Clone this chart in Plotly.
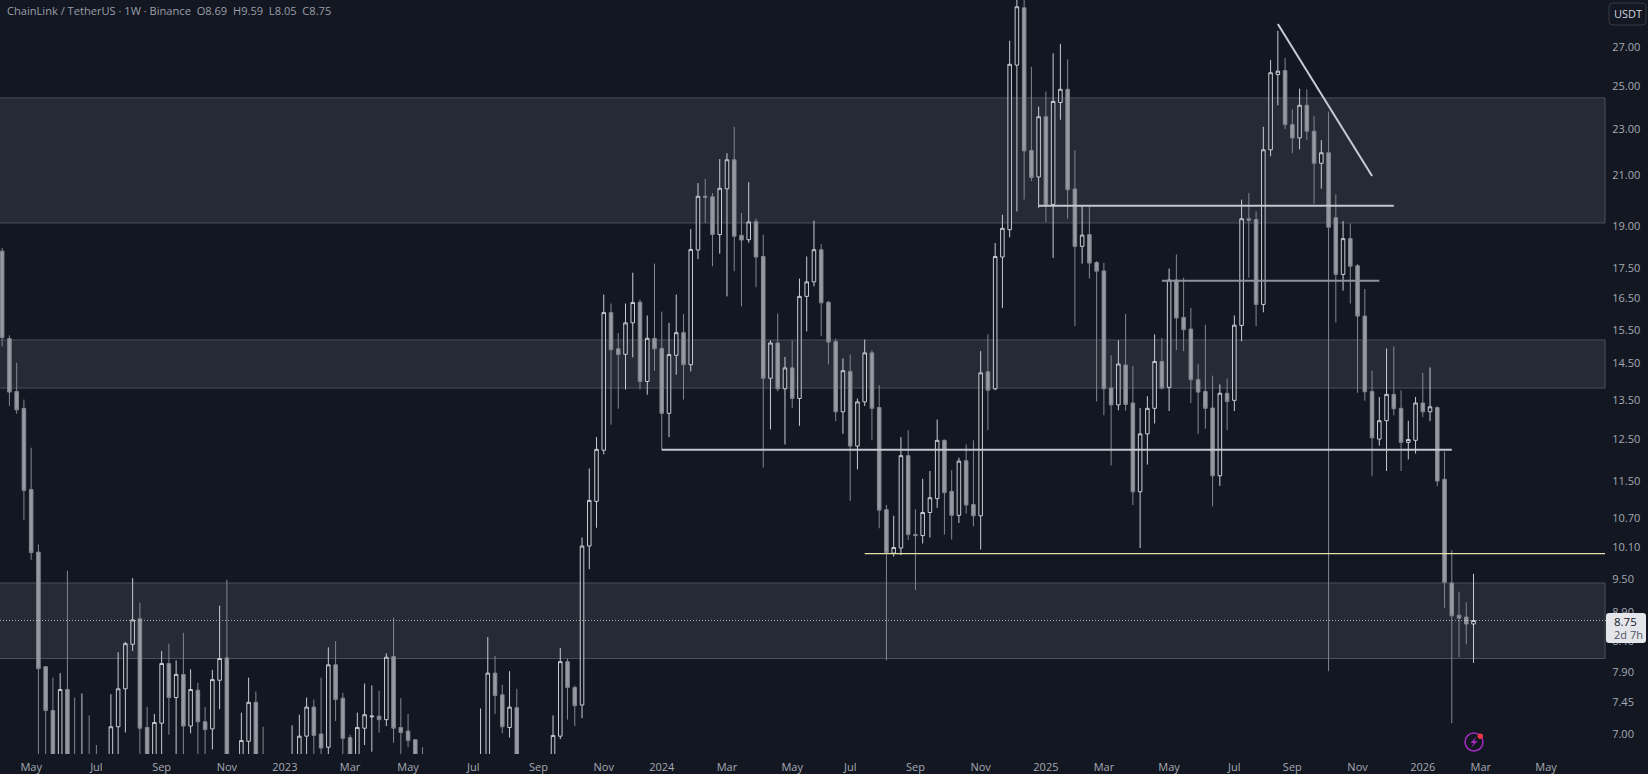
import plotly.graph_objects as go
import pandas as pd

LAST_WEEK = "2026-02-23"

opens = [
 18.09,15.23,13.73,13.28,11.32,10.01,7.99,7.33,6.5,7.64,
 6.6,6.3,6.6,6.6,6.4,6.5,7.10,7.65,8.35,8.78,
 7.09,6.6,7.15,8.04,7.52,7.87,7.11,7.63,7.17,7.07,
 7.78,8.13,6.5,6.55,6.90,7.45,6.6,6.5,6.45,6.5,
 6.4,6.55,6.97,7.38,7.0,6.82,8.02,7.51,6.95,6.6,
 7.08,7.24,7.25,7.20,8.15,7.09,7.04,6.92,6.6,
 6.5,6.45,6.4,6.35,6.4,6.5,6.45,
 6.4,6.55,7.89,7.56,7.09,7.37,
 6.6,6.5,6.45,6.5,
 6.6,6.97,8.07,7.67,7.41,10.13,11.06,
 12.23,16.03,14.93,14.77,15.71,16.36,14.0,15.24,14.94,13.15,
 14.74,15.41,14.47,18.13,20.15,20.13,18.69,20.45,21.65,18.66,
 18.50,19.17,17.90,14.09,15.10,13.80,14.38,13.54,16.55,17.03,
 18.14,16.36,15.14,13.19,14.28,12.33,13.45,14.81,13.30,10.88,
 9.99,10.09,12.10,10.36,10.34,10.82,11.12,12.47,11.28,10.76,
 11.98,10.99,10.75,14.27,13.80,17.88,18.87,26.08,29.19,22.05,
 20.93,23.56,19.83,24.23,24.87,20.44,18.26,18.69,17.69,17.40,
 13.82,13.37,14.46,13.42,11.27,12.63,13.28,14.56,13.84,17.09,
 15.88,15.52,14.05,13.73,13.29,11.63,13.68,13.49,15.63,19.28,
 19.25,16.29,
 22.08,25.6,25.8,23.2,22.6,24.1,22.9,21.5,21.95,
 19.32,17.28,18.54,17.58,15.92,13.73,12.50,12.96,13.65,13.28,
 12.42,12.47,13.42,13.19,13.30,11.55,9.42,8.84,8.81,8.69,
]
highs = [
 18.2,15.33,14.52,13.51,12.29,10.16,8.0,7.82,7.89,9.65,
 7.52,7.58,7.26,6.85,6.65,7.57,8.22,8.39,9.51,9.06,
 7.38,7.28,8.24,8.36,8.09,8.54,7.95,7.74,7.38,7.94,
 9.01,9.48,6.68,7.30,7.82,7.61,7.10,6.65,6.62,6.66,
 7.12,7.27,7.52,7.49,7.82,8.30,8.40,7.59,6.99,7.30,
 7.73,7.70,7.62,8.20,8.80,7.51,7.28,6.93,6.82,
 6.65,6.6,6.6,6.55,6.6,6.68,6.65,
 7.36,8.47,8.16,7.71,7.92,7.65,
 6.68,6.65,6.6,6.67,
 7.26,8.29,8.12,7.70,10.3,11.80,12.55,
 16.61,16.32,15.40,16.32,17.34,16.45,15.94,17.65,16.06,15.71,
 16.61,15.98,18.89,20.68,20.85,20.28,21.68,21.93,23.10,19.50,
 20.72,19.29,18.69,15.18,16.0,14.69,15.18,17.14,17.90,19.21,
 18.34,16.40,15.23,14.65,14.76,13.54,15.20,14.89,13.90,10.98,
 10.75,12.55,12.72,10.89,11.56,11.74,12.99,12.49,11.76,12.05,
 12.37,12.47,14.86,15.36,18.38,19.43,27.36,30.5,30.0,25.99,
 24.03,24.76,26.69,27.19,26.38,22.05,19.78,19.75,17.74,17.68,
 14.74,15.18,15.99,14.43,13.29,13.60,15.36,15.25,17.48,17.97,
 17.17,16.18,14.49,15.65,14.16,13.92,14.08,15.94,20.02,20.28,
 19.56,23.10,
 26.35,27.9,26.45,23.9,24.9,24.87,23.6,22.5,23.8,
 20.23,19.19,19.10,17.64,16.79,14.30,13.58,14.94,15.0,13.76,
 12.96,13.58,14.24,14.39,13.33,12.20,10.05,9.26,9.07,9.59,
]
lows = [
 15.0,13.34,13.14,10.66,9.86,6.5,6.4,6.3,6.3,6.2,
 6.1,6.1,6.1,6.2,6.2,6.3,6.6,7.02,8.24,6.6,
 6.4,6.5,6.6,6.99,6.6,6.6,7.01,6.6,6.6,6.79,
 7.35,6.4,6.3,6.4,6.6,6.4,6.4,6.3,6.3,6.35,
 6.3,6.4,6.6,6.6,6.6,6.65,7.18,6.6,6.5,6.5,
 6.85,6.76,7.02,7.11,6.88,6.6,6.82,6.5,6.4,
 6.3,6.3,6.25,6.2,6.3,6.35,6.3,
 6.3,6.4,7.28,7.01,6.95,6.5,
 6.4,6.35,6.3,6.35,
 6.5,6.93,7.20,7.11,7.22,9.68,10.5,
 12.13,12.86,13.27,13.78,14.68,13.78,13.64,14.30,12.24,12.55,
 14.19,13.51,14.28,17.81,19.12,17.56,18.0,16.55,17.39,16.23,
 18.39,16.85,11.82,12.74,13.73,12.37,13.29,12.83,15.45,16.88,
 15.30,14.48,12.95,12.63,11.07,11.78,13.34,12.47,10.49,8.09,
 9.92,9.95,10.25,9.29,10.18,10.30,10.92,10.36,10.26,10.60,
 10.80,10.53,10.06,12.72,13.76,16.18,18.59,19.56,20.02,20.76,
 19.70,19.16,17.85,23.42,19.28,15.61,17.65,17.14,13.46,13.10,
 11.87,13.23,13.22,10.98,10.09,11.89,12.89,13.78,13.21,14.89,
 14.86,13.42,12.63,12.76,10.95,11.40,12.72,13.21,15.15,17.17,
 15.61,16.04,
 21.8,24.1,23.0,21.93,22.1,22.5,19.85,20.45,7.92,
 15.72,16.74,16.32,13.69,13.48,11.62,12.34,11.74,13.10,11.74,
 12.01,12.15,13.05,12.95,11.39,8.97,7.15,8.14,8.35,8.05,
]
closes = [
 15.26,13.71,13.24,11.30,10.0,7.96,7.33,6.5,7.64,6.45,
 6.3,6.6,6.4,6.4,6.5,7.10,7.65,8.36,8.76,7.08,
 6.6,7.16,8.04,7.52,7.87,7.11,7.64,7.17,7.06,7.79,
 8.12,6.5,6.55,6.91,7.45,6.6,6.5,6.45,6.5,6.4,
 6.65,6.97,7.38,6.98,6.81,8.02,7.49,6.94,6.6,7.09,
 7.27,7.25,7.20,8.14,7.08,7.02,6.91,6.6,6.5,
 6.45,6.4,6.35,6.4,6.5,6.45,6.4,
 6.65,7.89,7.55,7.10,7.38,6.6,
 6.5,6.45,6.5,6.4,
 6.98,8.07,7.67,7.40,10.13,11.08,12.25,
 16.03,14.90,14.76,15.71,16.35,14.0,15.24,14.93,13.15,14.76,
 15.41,14.47,18.15,20.15,20.11,18.69,20.47,21.65,18.63,18.49,
 19.16,17.88,14.09,15.10,13.80,14.38,13.54,16.55,17.03,18.14,
 16.34,15.13,13.19,14.30,12.33,13.45,14.81,13.28,10.87,10.0,
 10.10,12.10,10.36,10.34,10.82,11.14,12.47,11.25,10.76,11.97,
 10.98,10.75,14.24,13.76,17.90,18.92,26.12,29.25,22.03,20.91,
 23.56,19.82,24.28,24.87,20.41,18.26,18.67,17.67,17.39,13.80,
 13.37,14.49,13.38,11.27,12.63,13.28,14.56,13.82,17.09,15.86,
 15.50,14.05,13.71,13.28,11.63,13.68,13.46,15.64,19.28,19.22,
 16.29,22.08,
 25.69,25.77,23.2,22.6,24.1,22.9,21.5,21.95,18.96,
 17.28,18.54,17.56,15.92,13.72,12.53,12.96,13.65,13.27,12.42,
 12.49,13.42,13.19,13.32,11.51,9.43,8.83,8.79,8.69,8.75,
]

tick_dates = ["2022-05-02","2022-07-04","2022-09-05","2022-11-07","2023-01-02","2023-03-06",
              "2023-05-01","2023-07-03","2023-09-04","2023-11-06","2024-01-01","2024-03-04",
              "2024-05-06","2024-07-01","2024-09-02","2024-11-04","2025-01-06","2025-03-03",
              "2025-05-05","2025-07-07","2025-09-01","2025-11-03","2026-01-05","2026-03-02","2026-05-04"]
tick_text = ["May","Jul","Sep","Nov","2023","Mar","May","Jul","Sep","Nov","2024","Mar","May",
             "Jul","Sep","Nov","2025","Mar","May","Jul","Sep","Nov","2026","Mar","May"]
y_ticks = [27,25,23,21,19,17.5,16.5,15.5,14.5,13.5,12.5,11.5,10.7,10.1,9.5,8.9,8.4,7.9,7.45,7.0]

zone_lows = [19.12, 13.82, 8.12]
zone_highs = [24.45, 15.19, 9.42]
zone_end = "2026-06-30"

level_x = [("2024-12-30","2025-12-08"),("2025-04-28","2025-11-24"),("2024-01-01","2026-02-02")]
level_y = [19.78, 17.07, 12.24]
level_colors = ["#c4c7cf","#8f929c","#c4c7cf"]
support_x = ["2024-07-15", zone_end]
support_y = 9.98
trend_x = ["2025-08-18","2025-11-17"]
trend_y = [28.28, 20.97]
last_price = 8.75

BG = "#131722"
W, H = 1648, 774
PLOT_W, PLOT_H = 1607, 754
last = pd.Timestamp(LAST_WEEK)
n = len(opens)
dates = [last - pd.Timedelta(days=7*(n-1-i)) for i in range(n)]
range_left = last - pd.Timedelta(days=1423.1)
range_right = last + pd.Timedelta(days=128.9)

def px(x): return x/PLOT_W
def py(y): return 1-y/PLOT_H

fig = go.Figure()
fig.add_trace(go.Candlestick(
    x=dates, open=opens, high=highs, low=lows, close=closes,
    increasing=dict(line=dict(color="#c8cbd3", width=1), fillcolor="rgba(19,23,34,0.6)"),
    decreasing=dict(line=dict(color="#83868f", width=1), fillcolor="#979aa3"),
    whiskerwidth=0, showlegend=False, hoverinfo="skip"))

for xs, y, c in zip(level_x, level_y, level_colors):
    fig.add_trace(go.Scatter(x=list(xs), y=[y, y], mode="lines", line=dict(color=c, width=2),
                             showlegend=False, hoverinfo="skip"))
fig.add_trace(go.Scatter(x=support_x, y=[support_y]*2, mode="lines",
                         line=dict(color="#e6dea6", width=1.3), showlegend=False, hoverinfo="skip"))
fig.add_trace(go.Scatter(x=trend_x, y=trend_y, mode="lines", line=dict(color="#c8cbd3", width=2),
                         showlegend=False, hoverinfo="skip"))
fig.add_trace(go.Scatter(x=[range_left, range_right], y=[last_price]*2, mode="lines",
                         line=dict(color="rgba(213,215,222,0.75)", width=1, dash="1px,2px"),
                         showlegend=False, hoverinfo="skip"))

zone_start = range_left - pd.Timedelta(days=30)
shapes = []
for lo, hi in zip(zone_lows, zone_highs):
    shapes.append(dict(type="rect", xref="x", yref="y", x0=zone_start, x1=zone_end, y0=lo, y1=hi,
                       fillcolor="#262a35", line=dict(color="#4b4f5a", width=1), layer="below"))

def rrect(x0, y0, x1, y1, r):
    a, b, c, d = px(x0), px(x1), py(y0), py(y1)
    rx, ry = r/PLOT_W, r/PLOT_H
    return (f"M{a+rx},{c} L{b-rx},{c} Q{b},{c} {b},{c-ry} L{b},{d+ry} Q{b},{d} {b-rx},{d} "
            f"L{a+rx},{d} Q{a},{d} {a},{d+ry} L{a},{c-ry} Q{a},{c} {a+rx},{c} Z")

shapes.append(dict(type="path", xref="paper", yref="paper", path=rrect(1609, 3, 1646, 25, 4),
                   fillcolor="#131722", line=dict(color="#363a45", width=1)))
shapes.append(dict(type="path", xref="paper", yref="paper", path=rrect(1606, 613, 1646, 643, 3),
                   fillcolor="#e4e6eb", line=dict(color="#e4e6eb", width=0)))
# lightning badge
shapes.append(dict(type="circle", xref="paper", yref="paper", x0=px(1465), x1=px(1483), y0=py(733), y1=py(751),
                   line=dict(color="#a42bc0", width=1.5), fillcolor="rgba(0,0,0,0)"))
bolt = [(1476.5,736.5),(1470.5,743),(1473.7,743),(1471.5,747.5),(1477.5,741),(1474.3,741)]
shapes.append(dict(type="path", xref="paper", yref="paper",
                   path="M"+" L".join(f"{px(a)},{py(b)}" for a, b in bolt)+" Z",
                   fillcolor="#a42bc0", line=dict(width=0)))
shapes.append(dict(type="circle", xref="paper", yref="paper", x0=px(1477.5), x1=px(1483), y0=py(733.5), y1=py(739),
                   fillcolor="#f23645", line=dict(width=0)))

FONT = "Open Sans"
annotations = [
    dict(xref="paper", yref="paper", x=px(5), y=py(11), xanchor="left", yanchor="middle", showarrow=False,
         text="ChainLink / TetherUS · 1W · Binance&nbsp;&nbsp;O8.69&nbsp;&nbsp;H9.59&nbsp;&nbsp;L8.05&nbsp;&nbsp;C8.75",
         font=dict(family=FONT, size=11.1, color="#9a9ea8")),
    dict(xref="paper", yref="paper", x=px(1627.5), y=py(13.5), xanchor="center", yanchor="middle", showarrow=False,
         text="USDT", font=dict(family=FONT, size=11, color="#d1d4dc")),
    dict(xref="paper", yref="paper", x=px(1612), y=py(621.5), xanchor="left", yanchor="middle", showarrow=False,
         text="8.75", font=dict(family=FONT, size=11.5, color="#131722")),
    dict(xref="paper", yref="paper", x=px(1612), y=py(634.5), xanchor="left", yanchor="middle", showarrow=False,
         text="2d 7h", font=dict(family=FONT, size=11, color="#50535e")),
]

fig.update_layout(
    width=W, height=H, autosize=False,
    margin=dict(l=0, r=W-PLOT_W, t=0, b=H-PLOT_H, pad=0),
    paper_bgcolor=BG, plot_bgcolor=BG, showlegend=False,
    shapes=shapes, annotations=annotations,
    xaxis=dict(type="date", range=[range_left, range_right], rangeslider=dict(visible=False),
               tickmode="array", tickvals=tick_dates, ticktext=tick_text, showgrid=False, zeroline=False,
               showline=False, ticks="outside", ticklen=3, tickcolor=BG,
               tickfont=dict(family=FONT, size=11, color="#a6a9b2"), tickangle=0),
    yaxis=dict(type="log", side="right", range=[0.8280, 1.4719], tickmode="array", tickvals=y_ticks,
               ticktext=[f"{v:.2f}" for v in y_ticks], showgrid=False, zeroline=False, showline=False,
               ticks="outside", ticklen=2, tickcolor=BG,
               tickfont=dict(family=FONT, size=11, color="#a6a9b2")),
)

fig.write_html("out.html", config=dict(displayModeBar=False),
               post_script="document.body.style.margin='0';document.body.style.overflow='hidden';")
